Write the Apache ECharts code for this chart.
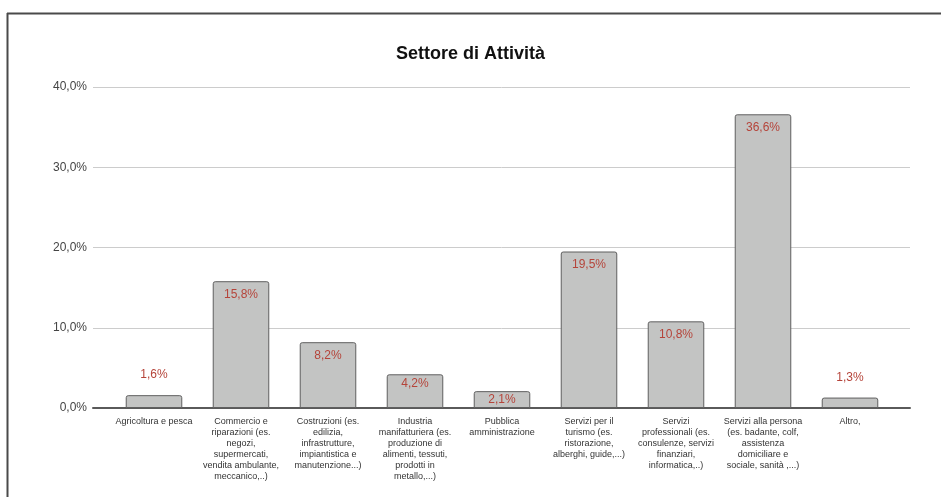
<!DOCTYPE html>
<html>
<head>
<meta charset="utf-8">
<script src="https://cdn.jsdelivr.net/npm/echarts@6/dist/echarts.min.js"></script>
<style>
  html, body { margin: 0; padding: 0; background: #fff; }
  #chart { width: 941px; height: 497px; }
</style>
</head>
<body>
<div id="chart"></div>
<script>
// Sector categories (line breaks follow the wrapped axis labels)
const categories = [
  'Agricoltura e pesca',
  'Commercio e\nriparazioni (es.\nnegozi,\nsupermercati,\nvendita ambulante,\nmeccanico,..)',
  'Costruzioni (es.\nedilizia,\ninfrastrutture,\nimpiantistica e\nmanutenzione...)',
  'Industria\nmanifatturiera (es.\nproduzione di\nalimenti, tessuti,\nprodotti in\nmetallo,...)',
  'Pubblica\namministrazione',
  'Servizi per il\nturismo (es.\nristorazione,\nalberghi, guide,...)',
  'Servizi\nprofessionali (es.\nconsulenze, servizi\nfinanziari,\ninformatica,..)',
  'Servizi alla persona\n(es. badante, colf,\nassistenza\ndomiciliare e\nsociale, sanità ,...)',
  'Altro,'
];
// Share of respondents per sector, in percent
const shares = [1.6, 15.8, 8.2, 4.2, 2.1, 19.5, 10.8, 36.6, 1.3];
// Value axis ticks
const yTicks = [0, 10, 20, 30, 40];

const fmtPct = v => v.toFixed(1).replace('.', ',') + '%';
const FONT = '"Liberation Sans", Arial, sans-serif';
const LABEL_RED = '#b5443a';

const barData = shares.map(v => {
  let label;
  if (v < 2) {
    label = { position: 'top', distance: 14 };
  } else if (v < 5) {
    label = { position: 'insideTop', distance: 3 };
  } else {
    label = { position: 'insideTop', distance: 7 };
  }
  return { value: v, label };
});

const chart = echarts.init(document.getElementById('chart'), null, { renderer: 'canvas' });

chart.setOption({
  backgroundColor: '#ffffff',
  animation: false,
  title: {
    text: 'Settore di Attività',
    left: 'center',
    top: 40,
    textStyle: { fontFamily: FONT, fontSize: 18, fontWeight: 'bold', color: '#111' }
  },
  graphic: [
    { type: 'line', shape: { x1: 7, y1: 13.5, x2: 941, y2: 13.5 },
      style: { stroke: '#4a4a4a', lineWidth: 2 } },
    { type: 'line', shape: { x1: 7.5, y1: 13, x2: 7.5, y2: 497 },
      style: { stroke: '#4a4a4a', lineWidth: 2 } }
  ],
  grid: [
    { left: 93, right: 31, top: 87, bottom: 89 },
    { left: 110.5, right: 47.5, top: 87, bottom: 89 }
  ],
  xAxis: [
    {
      gridIndex: 0, type: 'value', min: 0, max: 1,
      axisLine: { show: true, onZero: false, lineStyle: { color: '#5a5a5a', width: 2 } },
      axisTick: { show: false }, axisLabel: { show: false }, splitLine: { show: false }
    },
    {
      gridIndex: 1, type: 'category', data: categories,
      axisLine: { show: false }, axisTick: { show: false },
      axisLabel: {
        interval: 0, margin: 8,
        fontFamily: FONT, fontSize: 9, lineHeight: 11, color: '#333', align: 'center'
      }
    }
  ],
  yAxis: [
    {
      gridIndex: 0, type: 'value', min: yTicks[0], max: yTicks[yTicks.length - 1], interval: 10,
      axisLine: { show: false }, axisTick: { show: false },
      axisLabel: { formatter: fmtPct, fontFamily: FONT, fontSize: 12, color: '#444', margin: 6 },
      splitLine: { show: true, lineStyle: { color: '#cccccc', width: 1 } }
    },
    {
      gridIndex: 1, type: 'value', min: yTicks[0], max: yTicks[yTicks.length - 1], interval: 10,
      show: false, splitLine: { show: false }
    }
  ],
  series: [
    {
      type: 'bar',
      xAxisIndex: 1, yAxisIndex: 1,
      data: barData,
      barWidth: '65%',
      itemStyle: { color: '#c3c4c3', borderColor: '#5f5f5f', borderWidth: 1, borderRadius: [2, 2, 0, 0] },
      label: {
        show: true,
        formatter: p => fmtPct(p.value),
        fontFamily: FONT, fontSize: 12, color: LABEL_RED
      },
      z: 3
    }
  ]
});
</script>
</body>
</html>
